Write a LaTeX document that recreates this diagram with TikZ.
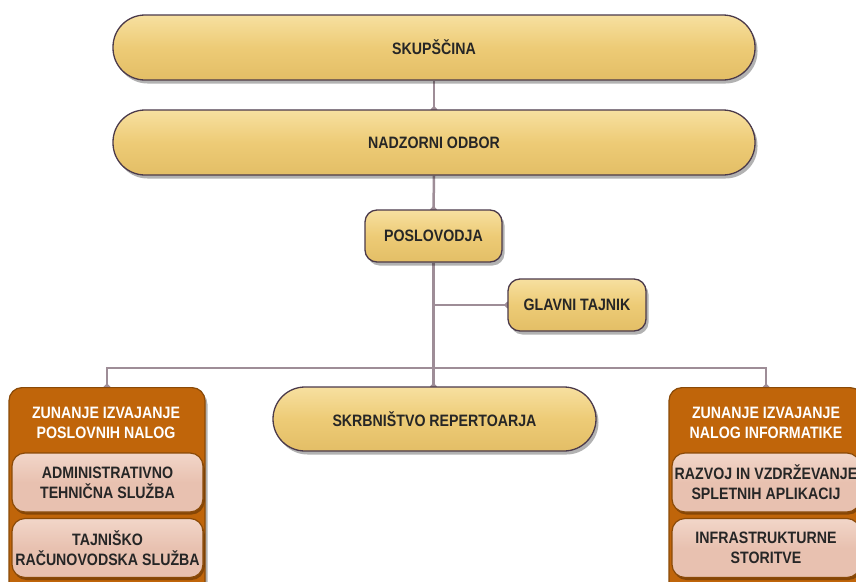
\documentclass[tikz,border=0pt]{standalone}
\usepackage{fontspec}
\setmainfont{Liberation Sans}[FakeStretch=0.86]
\usetikzlibrary{shadows,arrows.meta}
\pgfdeclarelayer{back}\pgfdeclarelayer{bg}\pgfsetlayers{back,bg,main}
\definecolor{gold}{HTML}{EDCB76}
\definecolor{goldlight}{HTML}{F7E0A0}
\definecolor{golddark}{HTML}{E3BE66}
\definecolor{edgec}{HTML}{4B3A4A}
\definecolor{connc}{HTML}{9E8D97}
\definecolor{orng}{HTML}{C0650A}
\definecolor{orngedge}{HTML}{8A4A08}
\definecolor{pinkc}{HTML}{E8C1B0}
\definecolor{pinklight}{HTML}{F2D6C9}
\definecolor{txtc}{HTML}{262626}
\tikzset{
  lbl/.style={font=\fontsize{16.5}{20}\selectfont\bfseries, text=txtc, align=center, inner sep=0pt},
  goldbox/.style={lbl, draw=edgec, line width=1.3pt, top color=goldlight, bottom color=golddark, middle color=gold,
    drop shadow={shadow xshift=2.5pt, shadow yshift=-3.5pt, fill=black, opacity=0.3}},
  pill/.style={goldbox, rounded corners=32pt, minimum width=642pt, minimum height=65pt},
  smallbox/.style={goldbox, rounded corners=12pt, minimum width=138pt, minimum height=52pt},
  grp/.style={fill=orng, draw=orngedge, line width=1.2pt, rounded corners=13pt, minimum height=215pt, anchor=north,
    drop shadow={shadow xshift=2.5pt, shadow yshift=-3.5pt, fill=black, opacity=0.3}},
  hdr/.style={lbl, text=white},
  subbox/.style={lbl, draw=orngedge, line width=1.2pt, top color=pinklight, bottom color=pinkc, middle color=pinkc,
    rounded corners=13pt, minimum height=59pt,
    drop shadow={shadow xshift=1.5pt, shadow yshift=-2.5pt, fill=black, opacity=0.3}},
  conn/.style={draw=connc, line width=2.5pt},
  dot/.style={conn, -{Circle[length=6pt,width=6pt]}, shorten >=-3pt},
}
\begin{document}
\begin{tikzpicture}[x=1pt,y=-1pt]
\useasboundingbox (0,0) rectangle (856,581);
\clip (0,0) rectangle (856,581);
\begin{pgfonlayer}{back}
\fill[white] (0,0) rectangle (856,581);
\end{pgfonlayer}

\node[pill] (skup) at (434,47.5) {SKUPŠČINA};
\node[pill] (nadz) at (434,142.5) {NADZORNI ODBOR};
\node[smallbox, minimum width=137pt] (posl) at (433.5,236) {POSLOVODJA};
\node[smallbox] (glav) at (577,305) {GLAVNI TAJNIK};
\node[pill, minimum width=323pt, minimum height=64pt] (skrb) at (434.5,419) {SKRBNIŠTVO REPERTOARJA};

\node[grp, minimum width=196pt] (lg) at (107,387) {};
\node[hdr] (lgh) at (106,423) {ZUNANJE IZVAJANJE\\POSLOVNIH NALOG};
\node[subbox, minimum width=191pt] (la) at (107.5,482.5) {ADMINISTRATIVNO\\TEHNIČNA SLUŽBA};
\node[subbox, minimum width=191pt] (lb) at (107.5,548) {TAJNIŠKO\\RAČUNOVODSKA SLUŽBA};

\node[grp, minimum width=194pt] (rg) at (766,387) {};
\node[hdr] (rgh) at (766,423) {ZUNANJE IZVAJANJE\\NALOG INFORMATIKE};
\node[subbox, minimum width=188pt] (ra) at (766,482.5) {RAZVOJ IN VZDRŽEVANJE\\SPLETNIH APLIKACIJ};
\node[subbox, minimum width=188pt] (rb) at (766,548) {INFRASTRUKTURNE\\STORITVE};

\coordinate (bus) at (433.5,368);
\begin{pgfonlayer}{bg}
\draw[dot] (skup.south) -- (nadz.north);
\draw[dot] (nadz.south) -- (posl.north);
\draw[conn] (posl.south) -- (bus);
\draw[dot] (bus) -- (bus |- skrb.north);
\draw[dot] (posl.south |- glav.west) -- (glav.west);
\draw[dot] (bus) -| (lg.north);
\draw[dot] (bus) -| (rg.north);
\end{pgfonlayer}
\end{tikzpicture}
\end{document}
